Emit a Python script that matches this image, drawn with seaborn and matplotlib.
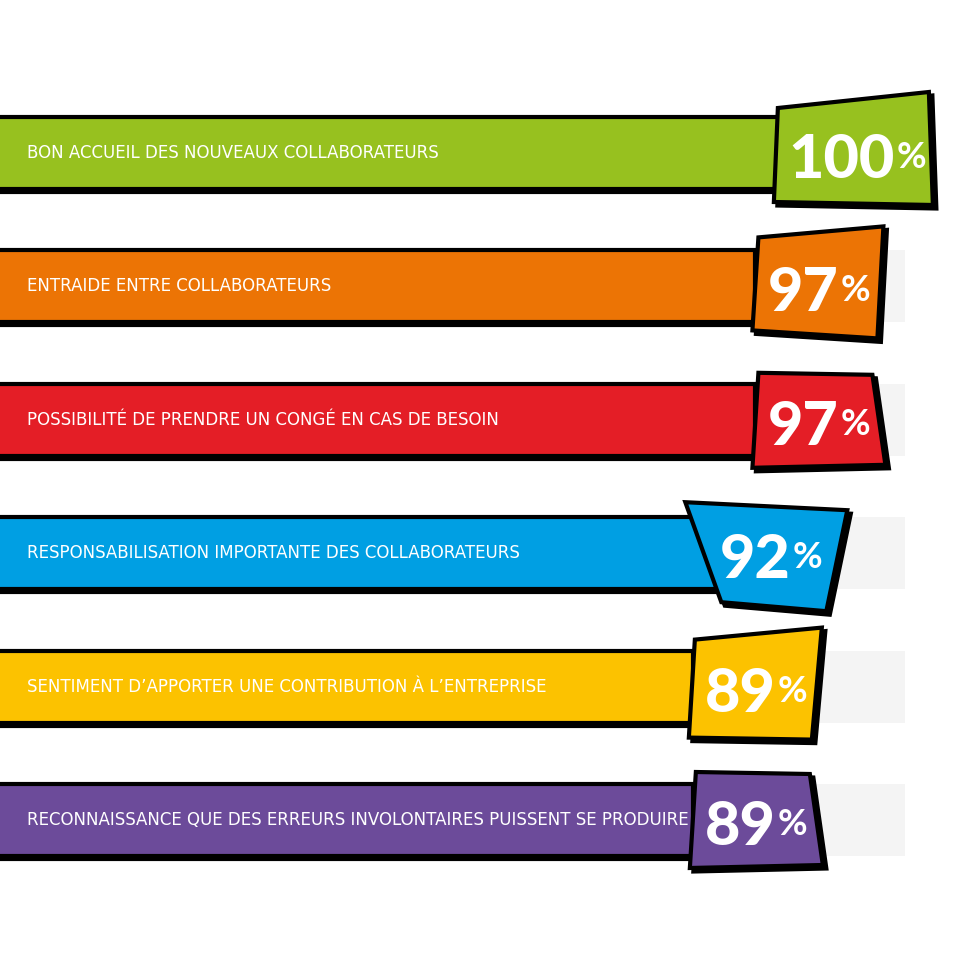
import numpy as np
import pandas as pd
import matplotlib.pyplot as plt
import seaborn as sns
from matplotlib.patches import Polygon, Rectangle

# Data
labels = [
    "BON ACCUEIL DES NOUVEAUX COLLABORATEURS",
    "ENTRAIDE ENTRE COLLABORATEURS",
    "POSSIBILITÉ DE PRENDRE UN CONGÉ EN CAS DE BESOIN",
    "RESPONSABILISATION IMPORTANTE DES COLLABORATEURS",
    "SENTIMENT D’APPORTER UNE CONTRIBUTION À L’ENTREPRISE",
    "RECONNAISSANCE QUE DES ERREURS INVOLONTAIRES PUISSENT SE PRODUIRE",
]
values = [100, 97, 97, 92, 89, 89]
colors = ["#97c11f", "#ec7405", "#e41e26", "#009fe3", "#fcc200", "#6c4b9a"]

# tilted value boxes, pixel offsets from bar end / row centre (TL, TR, BR, BL)
box_shapes = [
    [(-1, -45), (150, -61), (154, 52), (-5, 49)],
    [(3, -49), (128, -60), (122, 52), (-3, 44)],
    [(3, -47), (117, -45), (130, 45), (-3, 48)],
    [(-31, -51), (131, -43), (110, 58), (5, 49)],
    [(2, -47), (129, -59), (119, 53), (-4, 51)],
    [(3, -48), (117, -46), (130, 45), (-3, 48)],
]

df = pd.DataFrame({"label": labels, "value": values})

W = 960
PX = 7.82         # pixels per percent
X0 = 0.4
ROW = 133.4       # pixels per row
Y0 = -153 / ROW
sx = 1 / PX
sy = 1 / ROW

sns.set_style("white")
fig = plt.figure(figsize=(9.6, 9.6), dpi=100)
ax = fig.add_axes([0, 0, 1, 1])

# light grey track behind each bar
track = pd.DataFrame({"label": labels, "value": [905 / PX + X0] * len(labels)})
sns.barplot(data=track, x="value", y="label", orient="h", color="#f4f4f4",
            saturation=1, width=0.54, linewidth=0, ax=ax)
n_track = len(ax.patches)

sns.barplot(data=df, x="value", y="label", hue="label", palette=colors,
            saturation=1, orient="h", width=0.54, edgecolor="black",
            linewidth=3, legend=False, ax=ax, zorder=3)

# heavier bottom edge (comic shadow)
for p in ax.patches[n_track:]:
    ax.add_patch(Rectangle((p.get_x(), p.get_y() + 3 * sy), p.get_width(),
                           p.get_height(), facecolor="black",
                           edgecolor="black", linewidth=3, zorder=2.5))

for i, (lab, v, c, shape) in enumerate(zip(labels, values, colors, box_shapes)):
    # category label
    ax.text(X0 + 27 * sx, i, lab, color="white", fontsize=12,
            va="center", ha="left", zorder=5)

    # value box
    pts = np.array([(v + dx * sx, i + dy * sy) for dx, dy in shape])
    shadow = pts + np.array([3.5 * sx, 3.5 * sy])
    ax.add_patch(Polygon(shadow, closed=True, facecolor="black",
                         edgecolor="black", linewidth=3, zorder=6))
    ax.add_patch(Polygon(pts, closed=True, facecolor=c, edgecolor="black",
                         linewidth=3, zorder=7, joinstyle="miter"))

    cx = pts[:, 0].mean()
    nd = len(str(v))
    split = cx + (20 * (nd - 2) + 21) * sx
    ax.text(split, i + 25 * sy, str(v), color="white", fontsize=44,
            family="Lato", fontweight="black", ha="right", va="baseline",
            zorder=8)
    ax.text(split + 2 * sx, i + 15 * sy, "%", color="white", fontsize=26,
            family="Lato", fontweight="bold", ha="left", va="baseline",
            zorder=8)

ax.set_xlim(X0, X0 + W / PX)
ax.set_ylim(Y0 + W / ROW, Y0)
ax.set_axis_off()

fig.savefig("out.png", dpi=100, facecolor="white")
